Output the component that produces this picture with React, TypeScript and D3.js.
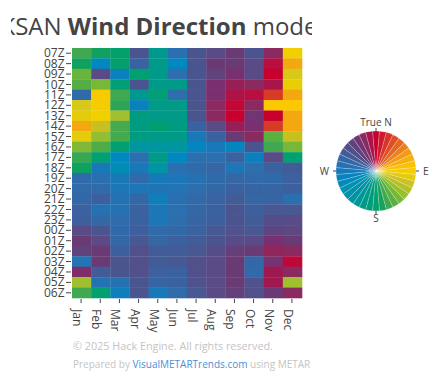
import React from 'react';
import * as d3 from 'd3';

// ---- data ----
const months = ['Jan', 'Feb', 'Mar', 'Apr', 'May', 'Jun', 'Jul', 'Aug', 'Sep', 'Oct', 'Nov', 'Dec'];
const hours = ['07Z', '08Z', '09Z', '10Z', '11Z', '12Z', '13Z', '14Z', '15Z', '16Z', '17Z', '18Z',
  '19Z', '20Z', '21Z', '22Z', '23Z', '00Z', '01Z', '02Z', '03Z', '04Z', '05Z', '06Z'];

// modal wind direction (degrees true) per hour, one array per month
const jan = [160, 172, 145, 152, 288, 105, 100, 65, 100, 138, 162, 172, 287, 288, 290, 295, 297, 315, 325, 320, 278, 337, 128, 160];
const feb = [172, 255, 315, 140, 88, 90, 95, 112, 132, 155, 180, 272, 283, 288, 297, 280, 290, 305, 315, 325, 325, 300, 280, 180];
const mar = [178, 178, 262, 185, 160, 165, 128, 158, 158, 180, 255, 245, 272, 275, 280, 280, 287, 287, 290, 297, 305, 305, 280, 265];
const apr = [305, 295, 180, 305, 205, 262, 195, 195, 195, 215, 283, 272, 288, 275, 290, 295, 295, 297, 303, 310, 310, 310, 305, 305];
const may = [205, 200, 200, 200, 185, 200, 200, 182, 200, 215, 200, 218, 270, 277, 265, 274, 274, 287, 292, 300, 300, 296, 293, 272];
const jun = [283, 255, 285, 200, 285, 200, 200, 195, 198, 215, 255, 283, 275, 278, 283, 283, 285, 290, 296, 300, 303, 295, 295, 288];
const jul = [305, 305, 305, 305, 305, 305, 305, 295, 272, 258, 283, 287, 280, 285, 289, 290, 293, 295, 300, 303, 310, 310, 308, 303];
const aug = [315, 325, 320, 335, 335, 340, 340, 315, 295, 272, 283, 292, 287, 290, 294, 295, 297, 303, 305, 312, 315, 315, 315, 315];
const sep = [325, 325, 335, 345, 352, 358, 0, 345, 325, 258, 295, 275, 291, 295, 300, 305, 305, 308, 313, 322, 325, 325, 325, 322];
const oct = [305, 315, 315, 340, 355, 340, 330, 335, 340, 305, 262, 285, 288, 293, 292, 297, 300, 303, 315, 325, 290, 288, 308, 310];
const nov = [340, 355, 0, 350, 22, 85, 0, 22, 150, 160, 315, 295, 288, 293, 293, 303, 312, 318, 335, 342, 333, 348, 348, 325];
const dec = [95, 65, 105, 98, 65, 85, 65, 65, 112, 140, 180, 300, 296, 297, 283, 303, 313, 316, 325, 340, 357, 340, 128, 340];
const monthSeries = [jan, feb, mar, apr, may, jun, jul, aug, sep, oct, nov, dec];

const compassLabels = ['True N', 'E', 'S', 'W'];

// ---- style ----
const stopAngles = [0, 22, 45, 65, 85, 95, 105, 112, 128, 140, 150, 160, 172, 180, 200, 215, 240, 255, 272, 283, 295, 305, 315, 325, 335, 340, 348, 355, 360];
const stopColors = ['#c8002e', '#d83a28', '#ea7420', '#f4a810', '#fcc800', '#f0d000', '#d8c818', '#c8c020', '#a0c030', '#78b838', '#5ab040', '#40a850', '#10a060', '#00a070', '#009a88', '#0096a0', '#0090b0', '#0088c0', '#1878b8', '#2a70b0', '#3a62a0', '#4a5590', '#5a4a85', '#6a3a75', '#7a3070', '#8a2a60', '#a01850', '#b80e40', '#c8002e'];

const FONT = '"Open Sans", sans-serif';
const TXT = '#444';

export default function App() {
  const x = d3.scaleBand<string>().domain(months).range([72, 302]);
  const y = d3.scaleBand<string>().domain(hours).range([48, 298]);
  const color = d3.scaleLinear<string>().domain(stopAngles).range(stopColors).interpolate(d3.interpolateRgb);

  const cells: { m: string; h: string; v: number }[] = [];
  months.forEach((m, i) => hours.forEach((h, j) => cells.push({ m, h, v: monthSeries[i][j] })));

  const cx = 376, cy = 171, R = 40;
  const arc = d3.arc<any>().innerRadius(0).outerRadius(R);
  const wedges = d3.range(0, 360, 10);
  const rad = (d: number) => (d * Math.PI) / 180;

  return (
    <svg width={444} height={379} style={{ position: 'absolute', left: 0, top: 0 }} fontFamily={FONT}>
      <defs>
        <clipPath id="clipMain">
          <rect x={11} y={0} width={301} height={379} />
        </clipPath>
        <radialGradient id="centerGlow">
          <stop offset="0%" stopColor="#fff" stopOpacity={0.35} />
          <stop offset="28%" stopColor="#fff" stopOpacity={0.0} />
        </radialGradient>
      </defs>

      <g clipPath="url(#clipMain)">
        <text x={0.5} y={35} fontSize={24} fill={TXT}>
          <tspan>KSAN </tspan>
          <tspan fontWeight="bold">Wind Direction</tspan>
          <tspan> mode</tspan>
        </text>
        <text x={73} y={350} fontSize={10.8} fill="#c4c4c4">© 2025 Hack Engine. All rights reserved.</text>
        <text x={73} y={368} fontSize={10} fill="#c4c4c4">
          <tspan>Prepared by </tspan>
          <tspan fill="#4a8fd4">VisualMETARTrends.com</tspan>
          <tspan> using METAR data.</tspan>
        </text>
      </g>

      {/* heatmap */}
      <g>
        {cells.map((c) => (
          <rect key={c.m + c.h} x={x(c.m)} y={y(c.h)} width={x.bandwidth() + 0.3} height={y.bandwidth() + 0.3} fill={color(c.v)} />
        ))}
      </g>

      {/* y axis */}
      <g fontSize={12} fill={TXT}>
        {hours.map((h) => {
          const yy = (y(h) as number) + y.bandwidth() / 2;
          return (
            <g key={h}>
              <line x1={66} x2={71} y1={yy} y2={yy} stroke={TXT} />
              <text x={64.5} y={yy} dy="0.34em" textAnchor="end">{h}</text>
            </g>
          );
        })}
      </g>

      {/* x axis */}
      <g fontSize={12} fill={TXT}>
        {months.map((m) => {
          const xx = (x(m) as number) + x.bandwidth() / 2;
          return (
            <g key={m} transform={`translate(${xx},298)`}>
              <line x1={-0.5} x2={-0.5} y1={1} y2={5} stroke={TXT} />
              <text transform="rotate(90)" x={11} dy="0.71em" textAnchor="start">{m}</text>
            </g>
          );
        })}
      </g>

      {/* compass wheel */}
      <g transform={`translate(${cx},${cy})`}>
        {wedges.map((a) => (
          <path key={a} d={arc({ startAngle: rad(a - 5), endAngle: rad(a + 5) }) as string} fill={color(a)} stroke="#ffffff" strokeOpacity={0.4} strokeWidth={0.5} />
        ))}
        <circle r={R} fill="url(#centerGlow)" />
        <line x1={0} x2={0} y1={-R} y2={-R - 3} stroke={TXT} />
        <line x1={R} x2={R + 3} y1={0} y2={0} stroke={TXT} />
        <line x1={0} x2={0} y1={R} y2={R + 3} stroke={TXT} />
        <line x1={-R} x2={-R - 3} y1={0} y2={0} stroke={TXT} />
        <g fontSize={10} fill={TXT}>
          <text x={0} y={-45} textAnchor="middle">{compassLabels[0]}</text>
          <text x={47} y={0} dy="0.35em" textAnchor="start">{compassLabels[1]}</text>
          <text x={0} y={51} textAnchor="middle">{compassLabels[2]}</text>
          <text x={-47} y={0} dy="0.35em" textAnchor="end">{compassLabels[3]}</text>
        </g>
      </g>
    </svg>
  );
}
